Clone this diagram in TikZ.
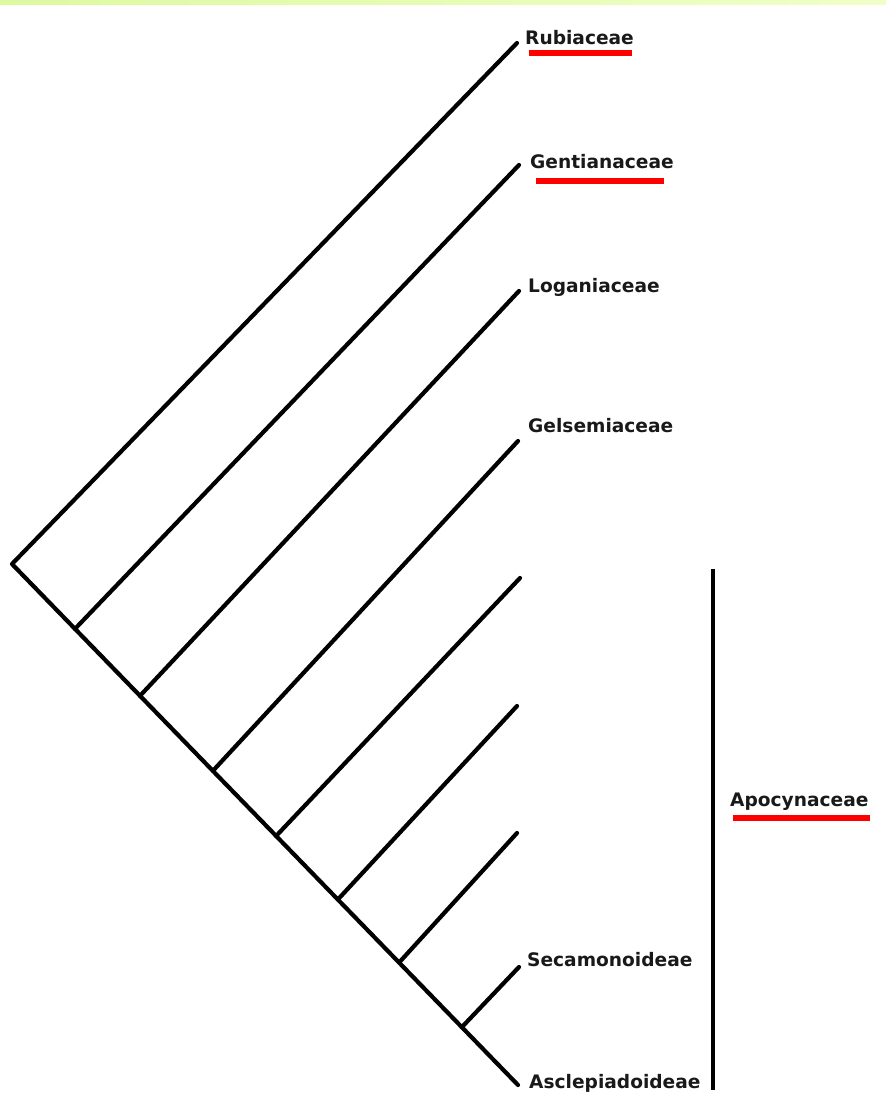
\documentclass[tikz,border=0pt]{standalone}
\usepackage{fontspec}
\setmainfont{DejaVu Sans}
\usetikzlibrary{calc}
\begin{document}
\begin{tikzpicture}[x=1pt,y=-1pt,
  branch/.style={line width=4.2pt, line cap=round, line join=round, black},
  lbl/.style={anchor=base west, inner sep=0pt, font=\fontsize{18.6}{20}\selectfont\bfseries, text=black!90},
  uline/.style={red, line width=5.5pt},
  clade/.style={line width=4.5pt, black}]
\useasboundingbox (0,0) rectangle (886,1094);
\shade[left color={rgb,255:red,220;green,250;blue,160}, right color={rgb,255:red,240;green,255;blue,200}] (0,0) rectangle (886,5);

% spine
\coordinate (root) at (12,564);
\coordinate (asc) at (518,1085);
\coordinate (n2) at ($(root)!0.1245!(asc)$);
\coordinate (n3) at ($(root)!0.253!(asc)$);
\coordinate (n4) at ($(root)!0.397!(asc)$);
\coordinate (n5) at ($(root)!0.522!(asc)$);
\coordinate (n6) at ($(root)!0.644!(asc)$);
\coordinate (n7) at ($(root)!0.765!(asc)$);
\coordinate (n8) at ($(root)!0.889!(asc)$);

% tips
\coordinate (t1) at (517,43);
\coordinate (t2) at (519,165);
\coordinate (t3) at (519,291);
\coordinate (t4) at (518,441);
\coordinate (t5) at (520,578);
\coordinate (t6) at (517,706);
\coordinate (t7) at (517,833);
\coordinate (t8) at (519,967);

\draw[branch] (t1) -- (root) -- (asc);
\draw[branch] (n2) -- (t2);
\draw[branch] (n3) -- (t3);
\draw[branch] (n4) -- (t4);
\draw[branch] (n5) -- (t5);
\draw[branch] (n6) -- (t6);
\draw[branch] (n7) -- (t7);
\draw[branch] (n8) -- (t8);

% labels
\node[lbl] (rub) at (525,45) {Rubiaceae};
\node[lbl] (gen) at (530,168) {Gentianaceae};
\node[lbl] (log) at (528,292) {Loganiaceae};
\node[lbl] (gel) at (528,432) {Gelsemiaceae};
\node[lbl] (sec) at (527,966) {Secamonoideae};
\node[lbl] (ascl) at (529,1088) {Asclepiadoideae};
\node[lbl] (apo) at (730,806) {Apocynaceae};

% clade bar
\coordinate (bartop) at (713,569);
\coordinate (barbot) at (713,1090);
\draw[clade] (bartop) -- (barbot);

% underlines
\draw[uline] (529,53) -- (632,53);
\draw[uline] (536,181) -- (664,181);
\draw[uline] (733,818) -- (870,818);
\end{tikzpicture}
\end{document}
